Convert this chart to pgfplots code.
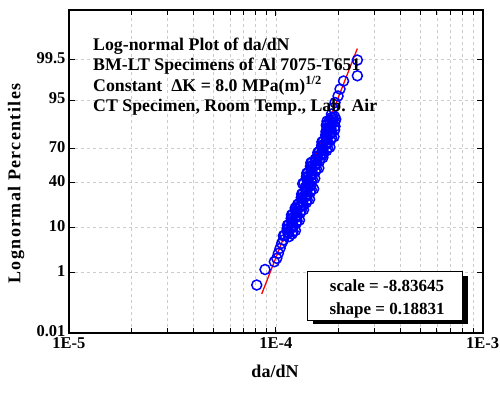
\documentclass[border=0pt]{standalone}
\usepackage{fontspec}
\setmainfont{Liberation Serif}
\usepackage{pgfplots}
\pgfplotsset{compat=1.18}
\pgfplotstableread{
x z
0.8084e-4 -2.614
0.8867e-4 -2.257
0.9833e-4 -2.077
1.0102e-4 -1.999
1.0283e-4 -1.884
1.0478e-4 -1.769
1.0680e-4 -1.654
1.0870e-4 -1.578
1.1584e-4 -1.50
1.1040e-4 -1.46
1.1501e-4 -1.42
1.2116e-4 -1.38
1.1418e-4 -1.34
1.1895e-4 -1.30
1.2119e-4 -1.26
1.1550e-4 -1.22
1.2033e-4 -1.18
1.2676e-4 -1.14
1.1946e-4 -1.10
1.2445e-4 -1.06
1.2679e-4 -1.02
1.2084e-4 -0.98
1.2589e-4 -0.94
1.3262e-4 -0.90
1.2498e-4 -0.86
1.3020e-4 -0.82
1.3565e-4 -0.78
1.2926e-4 -0.74
1.3467e-4 -0.70
1.4188e-4 -0.66
1.3371e-4 -0.62
1.3929e-4 -0.58
1.4192e-4 -0.54
1.3525e-4 -0.50
1.4089e-4 -0.46
1.4842e-4 -0.42
1.3989e-4 -0.38
1.4573e-4 -0.34
1.4359e-4 -0.30
1.3684e-4 -0.26
1.4256e-4 -0.22
1.5019e-4 -0.18
1.4154e-4 -0.14
1.4746e-4 -0.10
1.5023e-4 -0.06
1.4316e-4 -0.02
1.4916e-4 0.02
1.5714e-4 0.06
1.4809e-4 0.10
1.5428e-4 0.14
1.5718e-4 0.18
1.4980e-4 0.22
1.5605e-4 0.26
1.6441e-4 0.30
1.5843e-4 0.34
1.6690e-4 0.38
1.7005e-4 0.42
1.6205e-4 0.46
1.6881e-4 0.50
1.7785e-4 0.54
1.6761e-4 0.58
1.7462e-4 0.62
1.7791e-4 0.66
1.6954e-4 0.70
1.7662e-4 0.74
1.8606e-4 0.78
1.7537e-4 0.82
1.8269e-4 0.86
1.8613e-4 0.90
1.7737e-4 0.94
1.8478e-4 0.98
1.8411e-4 1.02
1.7546e-4 1.06
1.8279e-4 1.10
1.9257e-4 1.14
1.8149e-4 1.18
1.8908e-4 1.22
1.9262e-4 1.26
1.0876e-4 -1.48
1.1981e-4 -1.44
1.1416e-4 -1.40
1.2435e-4 -1.36
1.1335e-4 -1.32
1.2073e-4 -1.28
1.1378e-4 -1.24
1.2534e-4 -1.20
1.1944e-4 -1.16
1.3010e-4 -1.12
1.1859e-4 -1.08
1.2631e-4 -1.04
1.1904e-4 -1.00
1.3114e-4 -0.96
1.2496e-4 -0.92
1.3611e-4 -0.88
1.2407e-4 -0.84
1.3215e-4 -0.80
1.2735e-4 -0.76
1.4028e-4 -0.72
1.3368e-4 -0.68
1.4561e-4 -0.64
1.3272e-4 -0.60
1.4139e-4 -0.56
1.3325e-4 -0.52
1.4676e-4 -0.48
1.3985e-4 -0.44
1.5234e-4 -0.40
1.3886e-4 -0.36
1.4793e-4 -0.32
1.3483e-4 -0.28
1.4850e-4 -0.24
1.4152e-4 -0.20
1.5415e-4 -0.16
1.4050e-4 -0.12
1.4966e-4 -0.08
1.4106e-4 -0.04
1.5536e-4 0.00
1.4807e-4 0.04
1.6129e-4 0.08
1.4700e-4 0.12
1.5659e-4 0.16
1.4759e-4 0.20
1.6256e-4 0.24
1.5492e-4 0.28
1.6874e-4 0.32
1.5903e-4 0.36
1.6941e-4 0.40
1.5965e-4 0.44
1.7585e-4 0.48
1.6757e-4 0.52
1.8254e-4 0.56
1.6637e-4 0.60
1.7725e-4 0.64
1.6703e-4 0.68
1.8398e-4 0.72
1.7532e-4 0.76
1.9098e-4 0.80
1.7407e-4 0.84
1.8544e-4 0.88
1.7476e-4 0.92
1.9248e-4 0.96
1.7741e-4 1.00
1.9324e-4 1.04
1.7612e-4 1.08
1.8761e-4 1.12
1.7682e-4 1.16
1.9477e-4 1.20
1.8561e-4 1.24
1.8580e-4 1.324
1.8900e-4 1.462
1.9330e-4 1.588
1.9990e-4 1.738
2.0430e-4 1.899
2.1250e-4 2.083
2.4780e-4 2.205
2.4780e-4 2.567
}\datatable
\begin{document}
\begin{tikzpicture}
\path[use as bounding box] (-69pt,-59pt) rectangle (431pt,333pt);
\begin{axis}[
  at={(0pt,0pt)}, anchor=south west,
  scale only axis, width=413.7pt, height=323pt,
  xmode=log, xmin=1e-5, xmax=1e-3,
  ymin=-3.719, ymax=3.719,
  xtick={1e-5,1e-4,1e-3}, xticklabels={1E-5,1E-4,1E-3},
  minor xtick={2e-5,3e-5,4e-5,5e-5,6e-5,7e-5,8e-5,9e-5,2e-4,3e-4,4e-4,5e-4,6e-4,7e-4,8e-4,9e-4},
  ytick={-3.719,-2.3263,-1.2816,-0.2533,0.5244,1.6449,2.5758},
  yticklabels={0.01,1,10,40,70,95,99.5},
  tick align=inside,
  xmajorgrids=true, xminorgrids=true, ymajorgrids=true,
  major grid style={gray!40, dashed, line width=0.6pt},
  minor grid style={gray!40, dashed, line width=0.6pt},
  axis line style={line width=1.8pt},
  tick style={black, line width=0.8pt},
  major tick length=6pt, minor tick length=5pt,
  tick label style={font=\fontsize{16.5}{18}\selectfont\bfseries},
  yticklabel style={yshift=1.5pt},
  xticklabel style={yshift=-1pt},
]
\addplot[only marks, mark=o, mark size=5pt, color=blue, mark options={line width=1.5pt}] table[x=x, y=z] {\datatable};
\addplot[red, line width=1.3pt] coordinates {(8.546e-5,-2.8196) (2.477e-4,2.831)};
\end{axis}
\begin{scope}[every node/.style={inner sep=0pt, font=\fontsize{17.8}{20}\selectfont\bfseries}]
\node[anchor=base west] at (24pt,283pt) {Log-normal Plot of da/dN};
\node[anchor=base west] at (24pt,262.5pt) {BM-LT Specimens of Al 7075-T651};
\node[anchor=base west] at (24pt,242pt) {Constant\ \ ΔK = 8.0 MPa(m)\textsuperscript{1/2}};
\node[anchor=base west] at (24pt,221.5pt) {CT Specimen, Room Temp., Lab. Air};
\fill[black] (243.7pt,8.7pt) rectangle (399.3pt,57.5pt);
\draw[fill=white, line width=0.8pt] (238.7pt,13pt) rectangle (393.3pt,62pt);
\node[anchor=base, font=\fontsize{17}{20}\selectfont\bfseries] at (318pt,41.3pt) {scale = -8.83645};
\node[anchor=base, font=\fontsize{17}{20}\selectfont\bfseries] at (318pt,18.7pt) {shape = 0.18831};
\node[anchor=base, font=\fontsize{18}{20}\selectfont\bfseries] at (206pt,-44.7pt) {da/dN};
\node[rotate=90, font=\fontsize{18}{20}\selectfont\bfseries\addfontfeature{LetterSpace=7.5}] at (-53pt,149.5pt) {Lognormal Percentiles};
\end{scope}
\end{tikzpicture}
\end{document}
